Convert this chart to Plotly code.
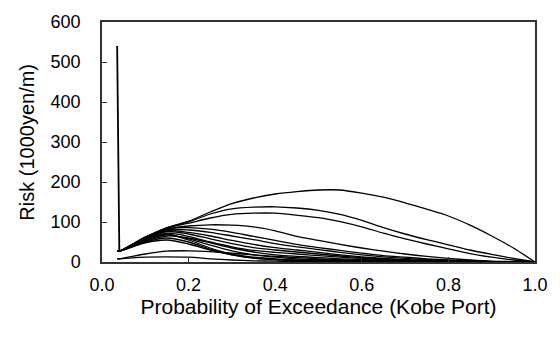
import plotly.graph_objects as go

# Probability of exceedance grid (shared by all curves)
prob = [0.035, 0.04, 0.1, 0.15, 0.2, 0.25, 0.3, 0.35, 0.4, 0.45, 0.5,
        0.55, 0.6, 0.65, 0.7, 0.75, 0.8, 0.85, 0.9, 0.95, 1.0]

# Risk curves (1000 yen / m)
risk_a = [27, 27, 62, 86, 102, 125, 146, 160, 170, 176, 180, 180, 172, 162, 148, 132, 115, 92, 65, 35, 0]
risk_b = [27, 27, 62, 85, 100, 120, 133, 137, 138, 135, 129, 119, 104, 86, 70, 56, 43, 30, 19, 9, 0]
risk_c = [27, 27, 62, 85, 97, 110, 119, 122, 122, 117, 111, 101, 88, 72, 58, 45, 33, 21, 12, 5, 0]
risk_d = [27, 27, 60, 82, 90, 93, 92, 88, 78, 64, 54, 44, 35, 27, 20, 14, 9, 5, 2, 1, 0]
risk_e = [27, 27, 60, 83, 86, 82, 74, 64, 54, 44, 36, 29, 22, 16, 12, 8, 5, 3, 1, 0.5, 0]
risk_f = [27, 27, 58, 80, 80, 74, 65, 56, 46, 38, 31, 24, 18, 13, 9, 6, 4, 2, 1, 0.5, 0]
risk_g = [27, 27, 58, 78, 74, 65, 54, 44, 36, 30, 24, 18, 13, 9, 6, 4, 3, 2, 1, 0.5, 0]
risk_h = [27, 27, 56, 76, 70, 58, 46, 36, 30, 25, 20, 15, 11, 8, 5, 3, 2, 1, 0.5, 0.2, 0]
risk_i = [27, 27, 55, 72, 64, 50, 38, 29, 24, 20, 16, 12, 9, 6, 4, 3, 2, 1, 0.5, 0.2, 0]
risk_j = [27, 27, 52, 65, 60, 48, 35, 25, 18, 14, 11, 8, 6, 4, 3, 2, 1, 0.5, 0.3, 0.1, 0]
risk_k = [27, 27, 55, 70, 55, 35, 20, 12, 8, 5, 4, 3, 2, 1.5, 1, 0.5, 0.3, 0.2, 0.1, 0, 0]
risk_l = [27, 27, 50, 60, 50, 32, 18, 10, 6, 4, 3, 2, 1.5, 1, 0.5, 0.3, 0.2, 0.1, 0, 0, 0]
risk_m = [27, 27, 48, 55, 45, 30, 18, 10, 6, 4, 3, 2, 1.5, 1, 0.5, 0.3, 0.2, 0.1, 0, 0, 0]
risk_spike = [540, 27, 55, 68, 58, 42, 28, 18, 12, 8, 6, 4, 3, 2, 1.5, 1, 0.5, 0.3, 0.2, 0.1, 0]
risk_n = [8, 8, 20, 27, 28, 26, 22, 18, 14, 11, 8, 6, 4, 3, 2, 1.5, 1, 0.5, 0.3, 0.1, 0]
risk_o = [8, 8, 12, 13, 12, 8, 5, 3, 2, 1, 0.6, 0.4, 0.3, 0.2, 0.1, 0.1, 0, 0, 0, 0, 0]

smooth_curves = [risk_a, risk_b, risk_c, risk_d, risk_e, risk_f, risk_g, risk_h,
                 risk_i, risk_j, risk_k, risk_l, risk_m, risk_n, risk_o]

x_ticks = [0.0, 0.2, 0.4, 0.6, 0.8, 1.0]
y_ticks = [0, 100, 200, 300, 400, 500, 600]
y_title = "Risk (1000yen/m)"
x_title = "Probability of Exceedance (Kobe Port)"

fig = go.Figure()
line_style = dict(color="black", width=1.3)
for ys in smooth_curves:
    fig.add_trace(go.Scatter(x=prob, y=ys, mode="lines", line=dict(shape="spline", smoothing=0.7, **line_style),
                             showlegend=False, hoverinfo="skip"))
# curve with the spike: the steep first segment straight, the rest smooth
fig.add_trace(go.Scatter(x=prob[:2], y=risk_spike[:2], mode="lines", line=dict(color="black", width=1.8),
                         showlegend=False, hoverinfo="skip"))
fig.add_trace(go.Scatter(x=prob[1:], y=risk_spike[1:], mode="lines",
                         line=dict(shape="spline", smoothing=0.7, **line_style),
                         showlegend=False, hoverinfo="skip"))

font_family = "Arial, Liberation Sans, sans-serif"
plot_w = 560 - 102 - 21
fig.update_layout(
    width=560, height=343,
    margin=dict(l=102, r=21, t=13, b=81),
    paper_bgcolor="white", plot_bgcolor="white",
    font=dict(family=font_family, color="black"),
    xaxis=dict(range=[0, 1], tickvals=x_ticks, tickformat=".1f",
               ticks="inside", ticklen=5, tickcolor="#333", tickwidth=1,
               showline=True, linecolor="#333", linewidth=1.5, mirror=True,
               showgrid=False, zeroline=False,
               tickfont=dict(size=18), ticklabelstandoff=6,
               title=dict(text=x_title, font=dict(size=21), standoff=1)),
    yaxis=dict(range=[0, 600], tickvals=y_ticks,
               ticks="inside", ticklen=5, tickcolor="#333", tickwidth=1,
               showline=True, linecolor="#333", linewidth=1.5, mirror=True,
               showgrid=False, zeroline=False,
               tickfont=dict(size=18), ticklabelstandoff=16),
    annotations=[dict(text=y_title, textangle=-90, font=dict(size=20),
                      xref="paper", yref="paper", x=-(102 - 26) / plot_w, y=0.5,
                      xanchor="center", yanchor="middle", showarrow=False)],
)

fig.write_html("out.html")
